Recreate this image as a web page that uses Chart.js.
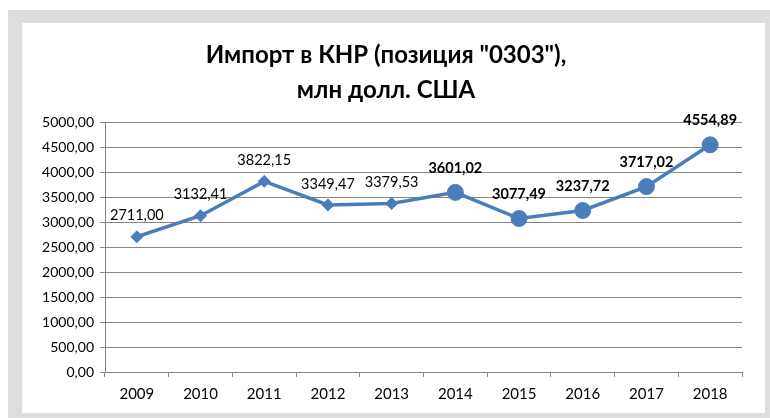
<!DOCTYPE html>
<html>
<head>
<meta charset="utf-8">
<script src="https://cdn.jsdelivr.net/npm/chart.js@4"></script>
<style>
  html, body { margin: 0; padding: 0; background: #fff; }
  #wrap { width: 770px; height: 418px; }
</style>
</head>
<body>
<div id="wrap"><canvas id="chart" width="770" height="418"></canvas></div>
<script>
// данные
const years = ['2009', '2010', '2011', '2012', '2013', '2014', '2015', '2016', '2017', '2018'];
const importValues = [2711.00, 3132.41, 3822.15, 3349.47, 3379.53, 3601.02, 3077.49, 3237.72, 3717.02, 4554.89];
const yTicks = [0, 500, 1000, 1500, 2000, 2500, 3000, 3500, 4000, 4500, 5000];
const titleLines = ['Импорт в КНР (позиция "0303"),', 'млн долл. США'];

const BLUE = '#4a7ebb';
const FONT = 'Lato, "Open Sans", sans-serif';
const bigFrom = 5; // с 2014 года маркеры крупные, подписи жирные

function fmt(v) {
    return v.toFixed(2).replace('.', ',');
}

// серая рамка вокруг диаграммы
const framePlugin = {
    id: 'frame',
    beforeDraw(chart) {
        const ctx = chart.ctx;
        ctx.save();
        ctx.fillStyle = '#dcdddf';
        ctx.fillRect(8, 10, chart.width - 8, chart.height - 10);
        ctx.fillStyle = '#ffffff';
        ctx.fillRect(22, 23, chart.width - 27, chart.height - 28);
        ctx.restore();
    }
};

// подписи значений над точками
const labelsPlugin = {
    id: 'valueLabels',
    afterDatasetsDraw(chart) {
        const ctx = chart.ctx;
        const meta = chart.getDatasetMeta(0);
        ctx.save();
        ctx.fillStyle = '#000';
        ctx.textAlign = 'center';
        ctx.textBaseline = 'middle';
        meta.data.forEach((pt, i) => {
            const big = i >= bigFrom;
            ctx.font = (big ? 'bold ' : '') + '14.5px ' + FONT;
            ctx.fillText(fmt(importValues[i]), pt.x, pt.y - (big ? 24 : 21));
        });
        ctx.restore();
    }
};

const ctx = document.getElementById('chart').getContext('2d');
new Chart(ctx, {
    type: 'line',
    data: {
        labels: years,
        datasets: [{
            data: importValues,
            borderColor: BLUE,
            backgroundColor: BLUE,
            borderWidth: 3.5,
            pointBackgroundColor: BLUE,
            pointBorderColor: BLUE,
            pointBorderWidth: 1,
            pointStyle: years.map((y, i) => i >= bigFrom ? 'circle' : 'rectRot'),
            pointRadius: years.map((y, i) => i >= bigFrom ? 8 : 6),
            tension: 0,
            fill: false
        }]
    },
    options: {
        responsive: false,
        animation: false,
        devicePixelRatio: 1,
        layout: {
            padding: {left: 30, right: 28, top: 38, bottom: 7}
        },
        plugins: {
            legend: {display: false},
            tooltip: {enabled: false},
            title: {
                display: true,
                text: titleLines,
                color: '#000',
                font: {family: FONT, size: 24, weight: 'bold', lineHeight: 1.45},
                padding: {top: 0, bottom: 15}
            }
        },
        scales: {
            x: {
                offset: true,
                grid: {
                    display: true,
                    drawOnChartArea: false,
                    drawTicks: true,
                    tickLength: 5,
                    offset: true,
                    color: '#868686'
                },
                border: {color: '#868686', width: 1},
                ticks: {
                    color: '#000',
                    font: {family: FONT, size: 15},
                    padding: 8,
                    maxRotation: 0
                }
            },
            y: {
                min: 0,
                max: 5000,
                afterBuildTicks(scale) {
                    scale.ticks = yTicks.map(v => ({value: v}));
                },
                afterFit(scale) {
                    scale.width = 75;
                },
                grid: {
                    color: '#868686',
                    tickLength: 5
                },
                border: {color: '#868686', width: 1},
                ticks: {
                    color: '#000',
                    font: {family: FONT, size: 14},
                    padding: 6,
                    callback: v => fmt(v)
                }
            }
        }
    },
    plugins: [framePlugin, labelsPlugin]
});
</script>
</body>
</html>
